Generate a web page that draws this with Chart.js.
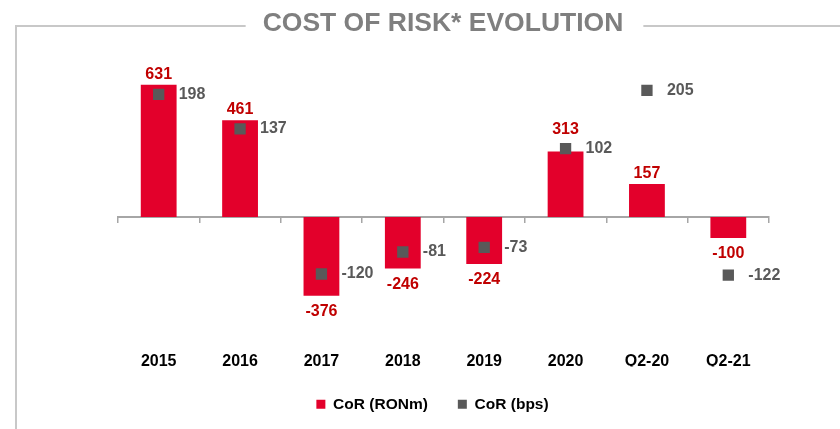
<!DOCTYPE html>
<html>
<head>
<meta charset="utf-8">
<script src="https://cdn.jsdelivr.net/npm/chart.js@4.4.1/dist/chart.umd.min.js"></script>
<style>
  html, body { margin: 0; padding: 0; background: #fff; }
</style>
</head>
<body>
<canvas id="chart" width="840" height="429"></canvas>
<script>
// chart data
const periods = ['2015', '2016', '2017', '2018', '2019', '2020', 'Q2-20', 'Q2-21'];
const corRonm = [631, 461, -376, -246, -224, 313, 157, -100]; // bars, RON m
const corBps = [198, 137, -120, -81, -73, 102, 205, -122]; // squares, bps
const seriesNames = ['CoR (RONm)', 'CoR (bps)'];
const chartTitle = 'COST OF RISK* EVOLUTION';

const FONT = '"Liberation Sans", Arial, sans-serif';
const RED = '#e3002b';
const RED_TEXT = '#c00000';
const GREY = '#595959';

Chart.defaults.font.family = FONT;

/**
 * draws the framed title at the top of the slide
 */
const titleFrame = {
  id: 'titleFrame',
  beforeDraw(chart) {
    const { ctx } = chart;
    const cx = 443;
    const cy = 24;

    ctx.save();
    ctx.font = `bold 26.5px ${FONT}`;
    const w = ctx.measureText(chartTitle).width;

    // frame lines
    ctx.strokeStyle = '#c8c8c8';
    ctx.lineWidth = 2;
    ctx.beginPath();
    ctx.moveTo(16, 429);
    ctx.lineTo(16, 26);
    ctx.lineTo(cx - w / 2 - 17, 26);
    ctx.moveTo(cx + w / 2 + 20, 26);
    ctx.lineTo(840, 26);
    ctx.stroke();

    // title text
    ctx.fillStyle = '#7f7f7f';
    ctx.textAlign = 'center';
    ctx.textBaseline = 'middle';
    ctx.fillText(chartTitle, cx, cy);
    ctx.restore();
  }
};

/**
 * writes the values next to the bars and the squares
 */
const valueLabels = {
  id: 'valueLabels',
  afterDatasetsDraw(chart) {
    const { ctx } = chart;
    const bars = chart.getDatasetMeta(0).data;
    const points = chart.getDatasetMeta(1).data;

    ctx.save();
    ctx.font = `bold 16px ${FONT}`;
    ctx.textBaseline = 'middle';

    // bar values, above or below the bar end
    ctx.fillStyle = RED_TEXT;
    ctx.textAlign = 'center';
    bars.forEach((bar, i) => {
      const value = corRonm[i];
      let y;
      if (value >= 0) {
        y = bar.y - 10;
        // keep clear of the square when it sits on the bar top
        if (Math.abs(points[i].y - bar.y) < 20) y = Math.min(y, points[i].y - 19);
      } else {
        y = bar.y + 16;
      }
      ctx.fillText(String(value), bar.x, y);
    });

    // bps values, to the right of the square
    ctx.fillStyle = GREY;
    ctx.textAlign = 'left';
    points.forEach((pt, i) => {
      ctx.fillText(String(corBps[i]), pt.x + 20, pt.y);
    });
    ctx.restore();
  }
};

const ctx = document.getElementById('chart').getContext('2d');

const chart = new Chart(ctx, {
  type: 'bar',
  data: {
    labels: periods,
    datasets: [
      {
        label: seriesNames[0],
        data: corRonm,
        backgroundColor: RED,
        borderWidth: 0,
        xAxisID: 'x',
        yAxisID: 'y',
        barPercentage: 0.44,
        categoryPercentage: 1,
        order: 1
      },
      {
        type: 'line',
        label: seriesNames[1],
        data: corBps,
        showLine: false,
        backgroundColor: GREY,
        borderColor: GREY,
        borderWidth: 0,
        pointStyle: 'rect',
        pointRadius: 8,
        pointBorderWidth: 0,
        xAxisID: 'x',
        yAxisID: 'y1',
        order: 0
      }
    ]
  },
  options: {
    responsive: false,
    animation: false,
    layout: {
      padding: { top: 60, left: 96, right: 71, bottom: 7 }
    },
    scales: {
      // zero line with the category ticks
      x: {
        type: 'category',
        position: { y: 0 },
        offset: true,
        grid: {
          display: true,
          offset: true,
          drawOnChartArea: false,
          drawTicks: true,
          tickLength: 5,
          color: '#a6a6a6',
          lineWidth: 1.5
        },
        border: { display: true, color: '#a6a6a6', width: 2 },
        ticks: { display: false }
      },
      // category names at the bottom
      xl: {
        type: 'category',
        labels: periods,
        position: 'bottom',
        offset: true,
        grid: { display: false, drawTicks: false },
        border: { display: false },
        ticks: {
          padding: 32,
          color: '#000',
          maxRotation: 0,
          autoSkip: false,
          font: { size: 16, weight: 'bold' }
        },
        afterFit: (scale) => {
          scale.height = 47;
        }
      },
      y: {
        min: -489,
        max: 749,
        grid: { display: false },
        border: { display: false },
        ticks: { display: false },
        afterFit: (scale) => {
          scale.width = 22;
        }
      },
      y1: {
        display: false,
        position: 'right',
        min: -200.5,
        max: 258.8
      }
    },
    plugins: {
      legend: {
        position: 'bottom',
        labels: {
          boxWidth: 9,
          boxHeight: 9,
          padding: 30,
          color: '#000',
          font: { size: 15.5, weight: 'bold' },
          sort: (a, b) => a.datasetIndex - b.datasetIndex
        }
      },
      tooltip: { enabled: false }
    }
  },
  plugins: [titleFrame, valueLabels]
});
</script>
</body>
</html>
